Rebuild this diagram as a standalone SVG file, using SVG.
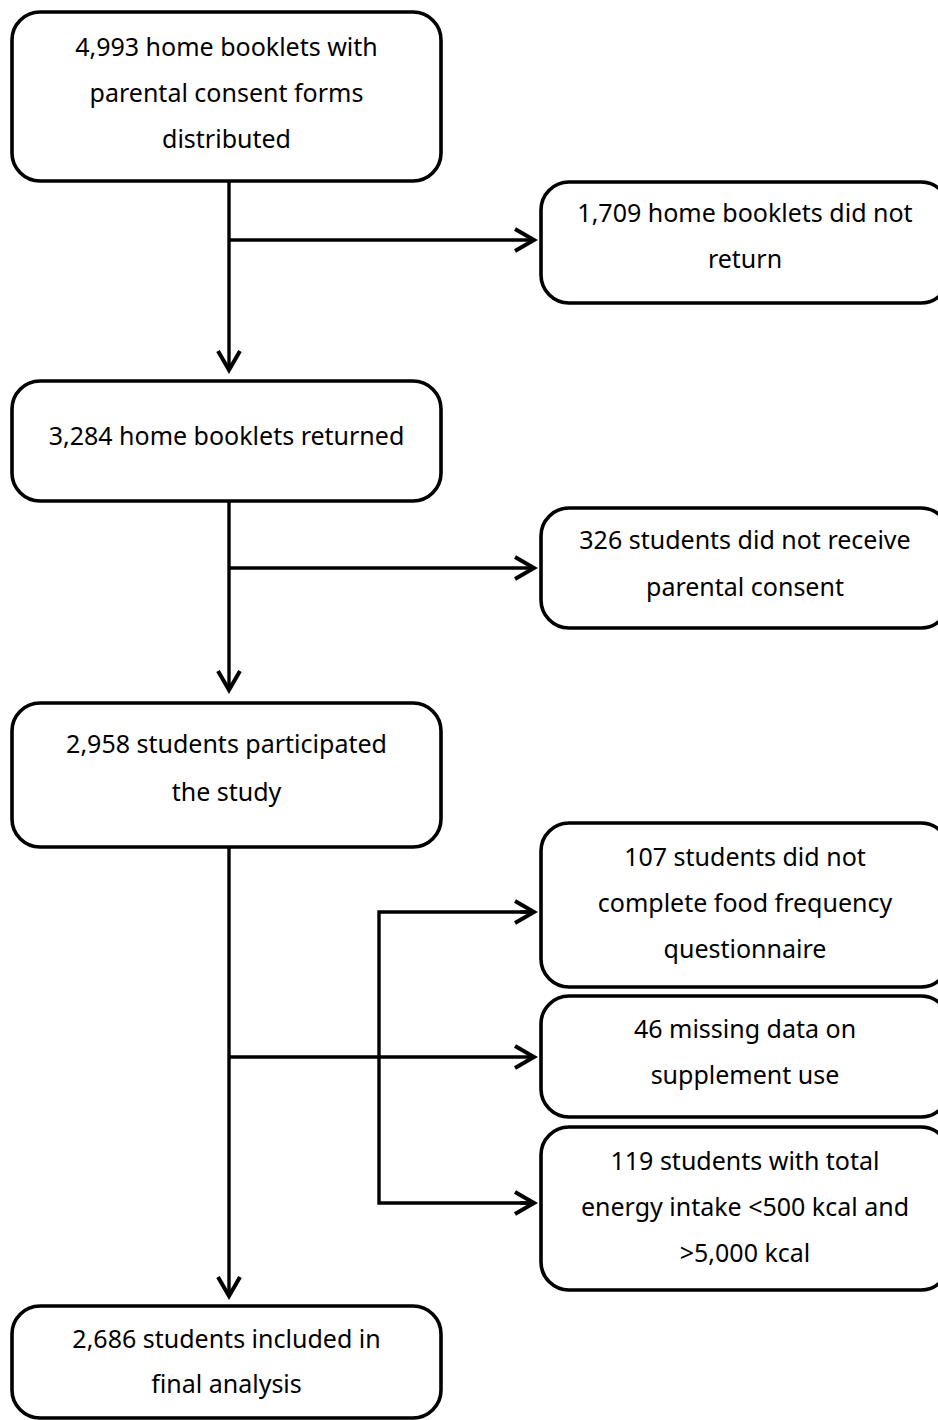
<svg xmlns="http://www.w3.org/2000/svg" width="938" height="1420" viewBox="0 0 938 1420">
<style>
.box{fill:#fff;stroke:#000;stroke-width:3.6}
.t{font-family:"Noto Sans","DejaVu Sans",sans-serif;font-size:25px;fill:#000;text-anchor:middle}
.c{fill:none;stroke:#000;stroke-width:3.4}
</style>
<defs>
<marker id="arr" markerUnits="userSpaceOnUse" viewBox="-24 -14 28 28" markerWidth="28" markerHeight="28" refX="0" refY="0" orient="auto">
<path d="M-19,-11 L0,0 L-19,11" fill="none" stroke="#000" stroke-width="4"/>
</marker>
</defs>
<g id="connectors">
<path class="c" d="M229,181 V370" marker-end="url(#arr)"/>
<path class="c" d="M229,240 H534" marker-end="url(#arr)"/>
<path class="c" d="M229,501 V690" marker-end="url(#arr)"/>
<path class="c" d="M229,568 H534" marker-end="url(#arr)"/>
<path class="c" d="M229,847 V1296" marker-end="url(#arr)"/>
<path class="c" d="M229,1057 H534" marker-end="url(#arr)"/>
<path class="c" d="M534,912 H379 V1203 H534" />
<path class="c" d="M520,912 H534" marker-end="url(#arr)"/>
<path class="c" d="M520,1203 H534" marker-end="url(#arr)"/>
</g>
<g id="n1">
<rect class="box" x="12" y="12" width="429" height="169" rx="28"/>
<text class="t" x="226.5" y="56">4,993 home booklets with</text>
<text class="t" x="226.5" y="102">parental consent forms</text>
<text class="t" x="226.5" y="148">distributed</text>
</g>
<g id="n2">
<rect class="box" x="541" y="182" width="408" height="121" rx="28"/>
<text class="t" x="745" y="222">1,709 home booklets did not</text>
<text class="t" x="745" y="268">return</text>
</g>
<g id="n3">
<rect class="box" x="12" y="381" width="429" height="120" rx="28"/>
<text class="t" x="226.5" y="445">3,284 home booklets returned</text>
</g>
<g id="n4">
<rect class="box" x="541" y="508" width="408" height="120" rx="28"/>
<text class="t" x="745" y="549">326 students did not receive</text>
<text class="t" x="745" y="596">parental consent</text>
</g>
<g id="n5">
<rect class="box" x="12" y="703" width="429" height="144" rx="28"/>
<text class="t" x="226.5" y="753">2,958 students participated</text>
<text class="t" x="226.5" y="801">the study</text>
</g>
<g id="n6">
<rect class="box" x="541" y="823" width="408" height="164" rx="28"/>
<text class="t" x="745" y="866">107 students did not</text>
<text class="t" x="745" y="912">complete food frequency</text>
<text class="t" x="745" y="958">questionnaire</text>
</g>
<g id="n7">
<rect class="box" x="541" y="996" width="408" height="121" rx="28"/>
<text class="t" x="745" y="1038">46 missing data on</text>
<text class="t" x="745" y="1084">supplement use</text>
</g>
<g id="n8">
<rect class="box" x="541" y="1127" width="408" height="163" rx="28"/>
<text class="t" x="745" y="1170">119 students with total</text>
<text class="t" x="745" y="1216">energy intake &lt;500 kcal and</text>
<text class="t" x="745" y="1262">&gt;5,000 kcal</text>
</g>
<g id="n9">
<rect class="box" x="12" y="1306" width="429" height="112" rx="28"/>
<text class="t" x="226.5" y="1348">2,686 students included in</text>
<text class="t" x="226.5" y="1393">final analysis</text>
</g>
</svg>
